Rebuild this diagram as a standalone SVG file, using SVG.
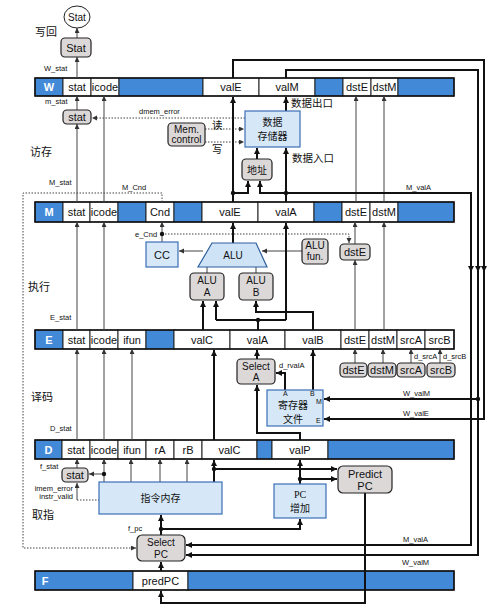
<svg xmlns="http://www.w3.org/2000/svg" width="499" height="610" viewBox="0 0 499 610">
<defs>
<marker id="ak" markerUnits="userSpaceOnUse" markerWidth="7" markerHeight="7" refX="6" refY="3" orient="auto"><path d="M0,0 L6,3 L0,6 z" fill="#111"/></marker>
<marker id="at" markerUnits="userSpaceOnUse" markerWidth="6" markerHeight="6" refX="5" refY="2.5" orient="auto"><path d="M0,0 L5,2.5 L0,5 z" fill="#333"/></marker>
<style>
text{font-family:"Liberation Sans",Arial,"Noto Sans CJK SC",sans-serif;fill:#111}
.cj{font-family:"Noto Sans CJK SC",sans-serif}
.cell{fill:#fff;stroke:#222;stroke-width:1}
.blue{fill:#4289d8;stroke:#222;stroke-width:1}
.barout{fill:none;stroke:#111;stroke-width:1.5}
.ct{font-size:11px;text-anchor:middle}
.bl{font-size:11px;fill:#fff;text-anchor:middle;font-weight:bold}
.gray{fill:#dcd8d8;stroke:#222;stroke-width:1.2}
.lb{fill:#d6e8f8;stroke:#3a6fb5;stroke-width:1.2}
.nt{font-size:10px;text-anchor:middle}
.sm{font-size:7.5px}
.tiny{font-size:7px}
.stg{font-size:11px}
.thin{fill:none;stroke:#444;stroke-width:1}
.thick{fill:none;stroke:#111;stroke-width:2}
.dot{fill:none;stroke:#444;stroke-width:1;stroke-dasharray:1.5 1.5}
</style>
</defs>
<rect width="499" height="610" fill="#fff"/>

<g id="stage-labels">
<text class="cj stg" x="35" y="36">写回</text>
<text class="cj stg" x="30" y="156">访存</text>
<text class="cj stg" x="28" y="291">执行</text>
<text class="cj stg" x="31" y="401">译码</text>
<text class="cj stg" x="32" y="519">取指</text>
</g>

<g id="reg-W">
<rect class="blue" x="35" y="78" width="28" height="18"/><text class="bl" x="49" y="91">W</text>
<rect class="cell" x="63" y="78" width="28" height="18"/><text class="ct" x="77" y="91">stat</text>
<rect class="cell" x="91" y="78" width="28" height="18"/><text class="ct" x="105" y="91">icode</text>
<rect class="blue" x="119" y="78" width="84" height="18"/>
<rect class="cell" x="203" y="78" width="56" height="18"/><text class="ct" x="231" y="91">valE</text>
<rect class="cell" x="259" y="78" width="56" height="18"/><text class="ct" x="287" y="91">valM</text>
<rect class="blue" x="315" y="78" width="28" height="18"/>
<rect class="cell" x="343" y="78" width="28" height="18"/><text class="ct" x="357" y="91">dstE</text>
<rect class="cell" x="371" y="78" width="27" height="18"/><text class="ct" x="384.5" y="91">dstM</text>
<rect class="blue" x="398" y="78" width="56" height="18"/>
<rect class="barout" x="35" y="78" width="419" height="18"/>
</g>
<g id="reg-M">
<rect class="blue" x="35" y="202" width="28" height="20"/><text class="bl" x="49" y="216">M</text>
<rect class="cell" x="63" y="202" width="27" height="20"/><text class="ct" x="76.5" y="216">stat</text>
<rect class="cell" x="90" y="202" width="28" height="20"/><text class="ct" x="104" y="216">icode</text>
<rect class="blue" x="118" y="202" width="28" height="20"/>
<rect class="cell" x="146" y="202" width="28" height="20"/><text class="ct" x="160" y="216">Cnd</text>
<rect class="blue" x="174" y="202" width="28" height="20"/>
<rect class="cell" x="202" y="202" width="56" height="20"/><text class="ct" x="230" y="216">valE</text>
<rect class="cell" x="258" y="202" width="56" height="20"/><text class="ct" x="286" y="216">valA</text>
<rect class="blue" x="314" y="202" width="28" height="20"/>
<rect class="cell" x="342" y="202" width="28" height="20"/><text class="ct" x="356" y="216">dstE</text>
<rect class="cell" x="370" y="202" width="28" height="20"/><text class="ct" x="384" y="216">dstM</text>
<rect class="blue" x="398" y="202" width="56" height="20"/>
<rect class="barout" x="35" y="202" width="419" height="20"/>
</g>
<g id="reg-E">
<rect class="blue" x="35" y="330" width="28" height="19"/><text class="bl" x="49" y="343.5">E</text>
<rect class="cell" x="63" y="330" width="27" height="19"/><text class="ct" x="76.5" y="343.5">stat</text>
<rect class="cell" x="90" y="330" width="28" height="19"/><text class="ct" x="104" y="343.5">icode</text>
<rect class="cell" x="118" y="330" width="28" height="19"/><text class="ct" x="132" y="343.5">ifun</text>
<rect class="blue" x="146" y="330" width="28" height="19"/>
<rect class="cell" x="174" y="330" width="56" height="19"/><text class="ct" x="202" y="343.5">valC</text>
<rect class="cell" x="230" y="330" width="55" height="19"/><text class="ct" x="257.5" y="343.5">valA</text>
<rect class="cell" x="285" y="330" width="56" height="19"/><text class="ct" x="313" y="343.5">valB</text>
<rect class="cell" x="341" y="330" width="28" height="19"/><text class="ct" x="355" y="343.5">dstE</text>
<rect class="cell" x="369" y="330" width="28" height="19"/><text class="ct" x="383" y="343.5">dstM</text>
<rect class="cell" x="397" y="330" width="28" height="19"/><text class="ct" x="411" y="343.5">srcA</text>
<rect class="cell" x="425" y="330" width="29" height="19"/><text class="ct" x="439.5" y="343.5">srcB</text>
<rect class="barout" x="35" y="330" width="419" height="19"/>
</g>
<g id="reg-D">
<rect class="blue" x="35" y="440" width="27" height="19"/><text class="bl" x="48.5" y="453.5">D</text>
<rect class="cell" x="62" y="440" width="28" height="19"/><text class="ct" x="76" y="453.5">stat</text>
<rect class="cell" x="90" y="440" width="28" height="19"/><text class="ct" x="104" y="453.5">icode</text>
<rect class="cell" x="118" y="440" width="28" height="19"/><text class="ct" x="132" y="453.5">ifun</text>
<rect class="cell" x="146" y="440" width="28" height="19"/><text class="ct" x="160" y="453.5">rA</text>
<rect class="cell" x="174" y="440" width="28" height="19"/><text class="ct" x="188" y="453.5">rB</text>
<rect class="cell" x="202" y="440" width="55" height="19"/><text class="ct" x="229.5" y="453.5">valC</text>
<rect class="blue" x="257" y="440" width="15" height="19"/>
<rect class="cell" x="272" y="440" width="56" height="19"/><text class="ct" x="300" y="453.5">valP</text>
<rect class="blue" x="328" y="440" width="126" height="19"/>
<rect class="barout" x="35" y="440" width="419" height="19"/>
</g>
<g id="reg-F">
<rect class="blue" x="35" y="571" width="98" height="19"/><text class="bl" x="45" y="584.5">F</text>
<rect class="cell" x="133" y="571" width="55" height="19"/><text class="ct" x="160.5" y="584.5">predPC</text>
<rect class="blue" x="188" y="571" width="266" height="19"/>
<rect class="barout" x="35" y="571" width="419" height="19"/>
</g>

<g id="connectors">
<path class="thin" d="M77,38 V28" marker-end="url(#at)"/>
<path class="thin" d="M77,78 V57" marker-end="url(#at)"/>
<path class="thin" d="M77,110 V96" marker-end="url(#at)"/>
<path class="thin" d="M77,202 V124" marker-end="url(#at)"/>
<path class="thin" d="M104,202 V96" marker-end="url(#at)"/>
<path class="thin" d="M356,202 V96" marker-end="url(#at)"/>
<path class="thin" d="M384,202 V96" marker-end="url(#at)"/>
<path class="dot" d="M245,118 H92" marker-end="url(#at)"/>
<path class="dot" d="M205,129 H244" marker-end="url(#at)"/>
<path class="dot" d="M205,142 H244" marker-end="url(#at)"/>
<path class="thick" d="M233,202 V97" marker-end="url(#ak)"/>
<path class="thick" d="M233,193 H248 V181" marker-end="url(#ak)"/>
<path class="thick" d="M286,202 V148" marker-end="url(#ak)"/>
<path class="thick" d="M286,193 H260 V181" marker-end="url(#ak)"/>
<path class="thick" d="M257,159 V148" marker-end="url(#ak)"/>
<path class="thick" d="M286,111 V97" marker-end="url(#ak)"/>
<path class="thick" d="M286,193 H471 V545 H186" marker-end="url(#ak)"/>
<path class="thick" d="M233,78 V60 H484 V419 H324" marker-end="url(#ak)"/>
<path class="thick" d="M286,78 V70 H478 V555 H186" marker-end="url(#ak)"/>
<path class="thick" d="M478,399 H324" marker-end="url(#ak)"/>
<path class="thick" d="M471,262 V272" marker-end="url(#ak)"/>
<path class="thick" d="M478,262 V272" marker-end="url(#ak)"/>
<path class="thick" d="M484,262 V272" marker-end="url(#ak)"/>
<path class="dot" d="M162,202 V193 H23 V548 H136" marker-end="url(#at)"/>
<path class="thin" d="M77,330 V222" marker-end="url(#at)"/>
<path class="thin" d="M104,330 V222" marker-end="url(#at)"/>
<path class="thin" d="M355,330 V260" marker-end="url(#at)"/>
<path class="thin" d="M355,244 V222" marker-end="url(#at)"/>
<path class="thin" d="M384,330 V222" marker-end="url(#at)"/>
<path class="thin" d="M162,242 V222" marker-end="url(#at)"/>
<path class="dot" d="M162,234 H349 V243" marker-end="url(#at)"/>
<path class="thin" d="M203,251 H179" marker-end="url(#at)"/>
<path class="thin" d="M302,251 H262" marker-end="url(#at)"/>
<path class="thin" d="M207,273 V267"/>
<path class="thin" d="M256,273 V267"/>
<path class="thick" d="M233,243 V223" marker-end="url(#ak)"/>
<path class="thick" d="M203,330 V301" marker-end="url(#ak)"/>
<path class="thick" d="M258,330 V320"/>
<path class="thick" d="M216,320 H286"/>
<path class="thick" d="M216,320 V301" marker-end="url(#ak)"/>
<path class="thick" d="M286,320 V223" marker-end="url(#ak)"/>
<path class="thick" d="M313,330 V312 H256 V301" marker-end="url(#ak)"/>
<path class="thin" d="M77,440 V349" marker-end="url(#at)"/>
<path class="thin" d="M104,440 V349" marker-end="url(#at)"/>
<path class="thin" d="M132,440 V349" marker-end="url(#at)"/>
<path class="thin" d="M355,363 V349" marker-end="url(#at)"/>
<path class="thin" d="M383,363 V349" marker-end="url(#at)"/>
<path class="thin" d="M411,363 V349" marker-end="url(#at)"/>
<path class="thin" d="M440,363 V349" marker-end="url(#at)"/>
<path class="thick" d="M257,359 V350" marker-end="url(#ak)"/>
<path class="thick" d="M313,390 V350" marker-end="url(#ak)"/>
<path class="thick" d="M285,390 V373 H276" marker-end="url(#ak)"/>
<path class="thick" d="M214,440 V350" marker-end="url(#ak)"/>
<path class="thick" d="M300,440 V433 H257 V385" marker-end="url(#ak)"/>
<path class="thin" d="M77,468 V459" marker-end="url(#at)"/>
<path class="thin" d="M104,482 V459" marker-end="url(#at)"/>
<path class="thin" d="M131,482 V459" marker-end="url(#at)"/>
<path class="thin" d="M160,482 V459" marker-end="url(#at)"/>
<path class="thin" d="M187,482 V459" marker-end="url(#at)"/>
<path class="thin" d="M104,474 H89" marker-end="url(#at)"/>
<path class="thin" d="M77,500 V483" marker-end="url(#at)"/>
<path class="dot" d="M77,500 H99"/>
<path class="thick" d="M214,482 V460" marker-end="url(#ak)"/>
<path class="thick" d="M214,469 H337" marker-end="url(#ak)"/>
<path class="thick" d="M300,484 V460" marker-end="url(#ak)"/>
<path class="thick" d="M300,479 H337" marker-end="url(#ak)"/>
<path class="thick" d="M161,535 V515" marker-end="url(#ak)"/>
<path class="thick" d="M161,529 H300 V519" marker-end="url(#ak)"/>
<path class="thick" d="M161,571 V562" marker-end="url(#ak)"/>
<path class="thick" d="M365,493 V603 H161 V591" marker-end="url(#ak)"/>
<circle cx="233" cy="193" r="2.2" fill="#111"/>
<circle cx="286" cy="193" r="2.2" fill="#111"/>
<circle cx="478" cy="399" r="2.2" fill="#111"/>
<circle cx="162" cy="234" r="2.2" fill="#111"/>
<circle cx="258" cy="320" r="2.2" fill="#111"/>
<circle cx="104" cy="474" r="2.2" fill="#111"/>
<circle cx="214" cy="469" r="2.2" fill="#111"/>
<circle cx="300" cy="479" r="2.2" fill="#111"/>
<circle cx="161" cy="529" r="2.2" fill="#111"/>
</g>

<g id="labels">
<text class="sm" x="44" y="71">W_stat</text>
<text class="sm" x="45" y="104">m_stat</text>
<text class="sm" x="139" y="114">dmem_error</text>
<text class="cj" font-size="10.5" x="212" y="129">读</text>
<text class="cj" font-size="10.5" x="212" y="153">写</text>
<text class="cj" font-size="10.5" x="291" y="107">数据出口</text>
<text class="cj" font-size="10.5" x="292" y="162">数据入口</text>
<text class="sm" x="49" y="185">M_stat</text>
<text class="sm" x="122" y="190">M_Cnd</text>
<text class="sm" x="406" y="190">M_valA</text>
<text class="sm" x="135" y="237">e_Cnd</text>
<text class="sm" x="50" y="320">E_stat</text>
<text class="sm" x="279" y="368">d_rvalA</text>
<text class="sm" x="414" y="359">d_srcA</text>
<text class="sm" x="443" y="359">d_srcB</text>
<text class="sm" x="403" y="396">W_valM</text>
<text class="sm" x="403" y="416">W_valE</text>
<text class="sm" x="50" y="431">D_stat</text>
<text class="sm" x="40" y="469">f_stat</text>
<text class="sm" x="73" y="491" text-anchor="end">imem_error</text>
<text class="sm" x="73" y="499" text-anchor="end">instr_valid</text>
<text class="sm" x="128" y="531">f_pc</text>
<text class="sm" x="403" y="542">M_valA</text>
<text class="sm" x="402" y="565">W_valM</text>
</g>

<g id="stat-out"><ellipse cx="77" cy="17" rx="13" ry="11" fill="#fff" stroke="#222" stroke-width="1"/><text class="nt" font-size="9" x="77" y="20.5">Stat</text></g>
<g id="stat-w"><rect class="gray" x="61" y="38" width="30" height="19" rx="4"/><text class="ct" x="76" y="51.5">Stat</text></g>
<g id="stat-m"><rect class="gray" x="63" y="110" width="28" height="14" rx="4"/><text class="ct" x="77" y="121">stat</text></g>
<g id="mem-control"><rect class="gray" x="168" y="123" width="37" height="23" rx="4"/><text class="nt" font-size="9.5" x="186.5" y="133">Mem.</text><text class="nt" font-size="9.5" x="186.5" y="143">control</text></g>
<g id="data-mem"><rect class="lb" x="245" y="111" width="55" height="36"/><text class="cj nt" font-size="10.5" x="272.5" y="126">数据</text><text class="cj nt" font-size="10.5" x="272.5" y="140">存储器</text></g>
<g id="addr"><rect class="gray" x="242" y="159" width="30" height="21" rx="4"/><text class="cj nt" font-size="10.5" x="257" y="173.5">地址</text></g>
<g id="cc"><rect class="lb" x="146" y="242" width="32" height="25"/><text class="ct" x="162" y="258.5">CC</text></g>
<g id="alu"><polygon points="212,243 256,243 267,267 198,267" fill="#cfe3f6" stroke="#2e5f9e" stroke-width="1.2"/><text class="nt" font-size="10.5" x="233" y="259">ALU</text></g>
<g id="alu-fun"><rect class="gray" x="302" y="239" width="26" height="25" rx="4"/><text class="nt" font-size="9.5" x="315" y="249">ALU</text><text class="nt" font-size="9.5" x="315" y="260">fun.</text></g>
<g id="dste-e"><rect class="gray" x="340" y="244" width="30" height="16" rx="4"/><text class="ct" x="355" y="256">dstE</text></g>
<g id="alu-a"><rect class="gray" x="190" y="273" width="34" height="27" rx="4"/><text class="nt" x="207" y="284">ALU</text><text class="nt" x="207" y="296">A</text></g>
<g id="alu-b"><rect class="gray" x="239" y="273" width="34" height="27" rx="4"/><text class="nt" x="256" y="284">ALU</text><text class="nt" x="256" y="296">B</text></g>
<g id="select-a"><rect class="gray" x="237" y="359" width="38" height="25" rx="4"/><text class="nt" x="256" y="370">Select</text><text class="nt" x="256" y="381">A</text></g>
<g id="regfile"><rect class="lb" x="267" y="390" width="56" height="36"/><text class="cj nt" font-size="9.5" x="293" y="409">寄存器</text><text class="cj nt" font-size="9.5" x="293" y="423">文件</text>
<text class="tiny" x="283" y="396">A</text><text class="tiny" x="310" y="396">B</text><text class="tiny" x="316" y="404">M</text><text class="tiny" x="316" y="423">E</text></g>
<g id="dste-d"><rect class="gray" x="340" y="363" width="27" height="14" rx="4"/><text class="ct" x="353.5" y="374">dstE</text></g>
<g id="dstm-d"><rect class="gray" x="368" y="363" width="28" height="14" rx="4"/><text class="ct" x="382" y="374">dstM</text></g>
<g id="srca-d"><rect class="gray" x="397" y="363" width="28" height="14" rx="4"/><text class="ct" x="411" y="374">srcA</text></g>
<g id="srcb-d"><rect class="gray" x="427" y="363" width="28" height="14" rx="4"/><text class="ct" x="441" y="374">srcB</text></g>
<g id="stat-f"><rect class="gray" x="62" y="468" width="26" height="14" rx="4"/><text class="ct" x="75" y="479">stat</text></g>
<g id="imem"><rect class="lb" x="99" y="482" width="123" height="32"/><text class="cj nt" font-size="11" x="160.5" y="502">指令内存</text></g>
<g id="pc-inc"><rect class="lb" x="274" y="484" width="52" height="34"/><text class="nt" font-size="10.5" x="300" y="498" style="font-family:'Liberation Serif',serif">PC</text><text class="cj nt" font-size="10.5" x="300" y="512">增加</text></g>
<g id="predict-pc"><rect class="gray" x="338" y="466" width="54" height="27" rx="5"/><text class="ct" font-size="11" x="365" y="478">Predict</text><text class="ct" font-size="11" x="365" y="490">PC</text></g>
<g id="select-pc"><rect class="gray" x="137" y="535" width="48" height="26" rx="5"/><text class="nt" font-size="10.5" x="161" y="546">Select</text><text class="nt" font-size="10.5" x="161" y="558">PC</text></g>
</svg>
